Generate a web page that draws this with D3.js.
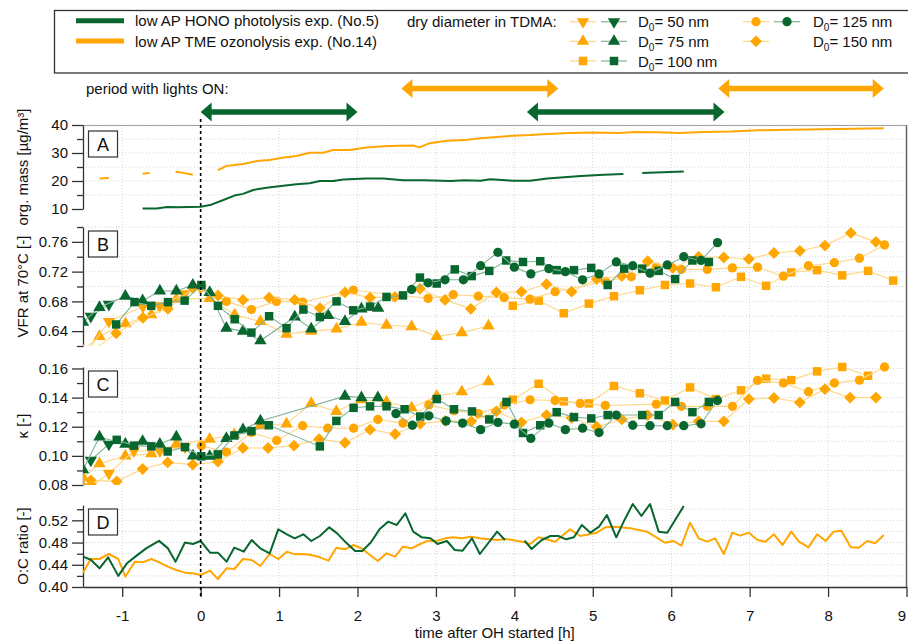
<!DOCTYPE html>
<html>
<head>
<meta charset="utf-8">
<script src="https://cdn.jsdelivr.net/npm/d3@7"></script>
<style>
body { margin: 0; background: #fff; }
svg { font-family: "Liberation Sans", Arial, sans-serif; }
</style>
</head>
<body>
<svg id="chart" width="908" height="641"></svg>
<script>
// ---- data: [hours after OH started, value] ----
// panel A, organic mass (null = gap in record)
const massGreen = [[-0.74,10.2],[-0.56,10.2],[-0.43,10.7],[-0.3,10.6],[-0.15,10.7],[0,10.8],[0.12,11.4],[0.29,13.2],[0.43,14.8],[0.54,15.4],[0.67,16.8],[0.84,17.6],[1.0,18.1],[1.22,18.8],[1.39,19.2],[1.52,20.0],[1.69,20.0],[1.82,20.5],[2.11,20.9],[2.33,20.9],[2.58,20.3],[2.84,20.3],[3.19,20.0],[3.36,20.3],[3.57,20.1],[3.69,20.6],[3.99,20.1],[4.2,20.1],[4.42,20.9],[4.85,21.8],[5.14,22.2],[5.39,22.5],[5.5,null],[5.63,22.9],[6.16,23.4]];
const massOrange = [[-1.29,20.9],[-1.17,21.1],[-1.0,null],[-0.74,22.6],[-0.65,22.9],[-0.5,null],[-0.32,23.3],[-0.22,22.9],[-0.1,22.2],[0.1,null],[0.22,23.9],[0.33,25.4],[0.43,25.7],[0.54,26.1],[0.71,27.1],[0.88,27.5],[1.04,28.3],[1.22,28.9],[1.39,30.1],[1.56,30.1],[1.69,31.1],[1.9,31.1],[2.11,32.0],[2.33,32.4],[2.54,32.6],[2.71,32.7],[2.79,32.0],[2.92,33.5],[3.14,34.4],[3.36,34.6],[3.57,35.3],[3.99,36.2],[4.2,36.4],[4.42,36.8],[4.71,37.1],[5.0,37.3],[5.34,37.1],[5.55,37.5],[5.8,37.4],[6.1,37.1],[6.4,37.5],[6.76,37.7],[7.1,38.1],[7.52,38.3],[8.12,38.6],[8.71,38.8]];

// panel B, volume fraction remaining at 70 °C
const vfrGreen050 = [[-1.40,0.660],[-1.17,0.676]];
const vfrGreen075 = [[-1.50,0.652],[-1.29,0.672],[-0.96,0.687],[-0.74,0.681],[-0.52,0.694],[-0.31,0.694],[-0.10,0.702],[0.115,0.692],[0.328,0.644],[0.54,0.640],[0.762,0.627],[1.2,0.659],[1.41,0.643],[1.627,0.661],[1.84,0.653],[2.05,0.670],[2.264,0.671]];
const vfrGreen100 = [[-1.077,0.649],[-0.843,0.679],[-0.63,0.674],[-0.417,0.679],[-0.204,0.681],[0.009,0.702],[0.221,0.674],[0.434,0.656],[0.647,0.638],[0.873,0.660],[1.095,0.644],[1.31,0.669],[1.52,0.659],[1.733,0.680],[1.946,0.668],[2.16,0.673],[2.37,0.686],[2.58,0.688],[2.796,0.712],[3.01,0.704],[3.24,0.723],[3.456,0.714],[3.68,0.721],[3.896,0.735],[4.11,0.733],[4.33,0.734],[4.54,0.722],[4.76,0.722],[4.98,0.725],[5.19,0.702],[5.40,0.724],[5.63,0.724],[5.84,0.721],[6.05,0.710],[6.27,0.735],[6.48,0.733]];
const vfrGreen125 = [[2.69,0.696],[2.9,0.705],[3.116,0.709],[3.35,0.709],[3.57,0.728],[3.79,0.746],[4.0,0.726],[4.21,0.717],[4.44,0.724],[4.65,0.720],[4.87,0.709],[5.08,0.717],[5.30,0.733],[5.51,0.728],[5.73,0.718],[5.95,0.729],[6.16,0.740],[6.38,0.735],[6.59,0.759]];
const vfrOrange050 = [[-1.45,0.612],[-1.17,0.653],[-0.736,0.673],[-0.524,0.674],[-0.204,0.690],[0.0,0.698]];
const vfrOrange075 = [[-1.50,0.614],[-1.29,0.633],[-0.958,0.650],[-0.63,0.662],[-0.31,0.683],[0.115,0.684],[0.434,0.662],[0.762,0.653],[1.095,0.636],[1.41,0.640],[1.733,0.643],[2.05,0.652],[2.37,0.648],[2.69,0.646],[3.01,0.633],[3.33,0.638],[3.67,0.647]];
const vfrOrange100 = [[3.98,0.674],[4.31,0.681],[4.63,0.664],[4.95,0.677],[5.27,0.687],[5.60,0.695],[5.92,0.702],[6.24,0.704],[6.57,0.699],[6.89,0.713],[7.21,0.701],[7.53,0.719],[7.86,0.722],[8.18,0.715],[8.51,0.721],[8.83,0.708]];
const vfrOrange125 = [[0.009,0.700],[0.328,0.680],[0.647,0.669],[0.966,0.680],[1.3,0.679],[1.946,0.695],[2.9,0.684],[3.22,0.689],[3.54,0.687],[3.87,0.685],[4.20,0.683],[4.52,0.693],[5.16,0.707],[5.49,0.713],[5.81,0.726],[6.13,0.723],[6.46,0.723],[6.78,0.725],[7.10,0.726],[7.43,0.714],[7.75,0.728],[8.08,0.732],[8.40,0.738],[8.72,0.756]];
const vfrOrange150 = [[-1.40,0.612],[-1.077,0.637],[-0.736,0.658],[-0.417,0.670],[-0.098,0.698],[0.221,0.688],[0.54,0.682],[0.873,0.685],[1.2,0.682],[1.52,0.671],[1.84,0.692],[2.16,0.685],[2.477,0.686],[2.796,0.697],[3.116,0.682],[3.445,0.670],[3.77,0.692],[4.09,0.693],[4.41,0.703],[4.73,0.693],[5.05,0.710],[5.37,0.714],[5.70,0.734],[6.02,0.725],[6.35,0.740],[6.67,0.739],[6.99,0.737],[7.31,0.745],[7.64,0.748],[7.96,0.755],[8.29,0.772],[8.61,0.760]];

// panel C, hygroscopicity kappa
const kapGreen050 = [[-1.40,0.097],[-1.17,0.108]];
const kapGreen075 = [[-1.50,0.0905],[-1.29,0.113],[-0.96,0.108],[-0.74,0.110],[-0.52,0.108],[-0.31,0.113],[-0.098,0.100],[0.115,0.0997],[0.328,0.112],[0.54,0.118],[0.762,0.124],[1.84,0.141],[2.05,0.140],[2.26,0.140]];
const kapGreen100 = [[-1.07,0.111],[-0.85,0.107],[-0.63,0.1065],[-0.42,0.103],[-0.20,0.106],[0.009,0.0997],[0.22,0.101],[0.43,0.114],[0.647,0.117],[0.87,0.121],[1.52,0.1065],[1.73,0.124],[1.95,0.133],[2.16,0.134],[2.37,0.134],[2.6,0.132],[2.80,0.127],[3.01,0.139],[3.23,0.132],[3.46,0.1305],[3.68,0.125],[3.90,0.137],[4.11,0.1157],[4.33,0.121],[4.54,0.130],[4.76,0.1266],[4.98,0.1257],[5.19,0.128],[5.63,0.128],[5.84,0.128],[6.05,0.137],[6.27,0.130],[6.48,0.137]];
const kapGreen125 = [[2.49,0.129],[2.70,0.121],[2.91,0.1275],[3.13,0.124],[3.34,0.1225],[3.57,0.118],[3.79,0.123],[4.0,0.1218],[4.21,0.112],[4.44,0.1225],[4.65,0.118],[4.87,0.119],[5.08,0.116],[5.30,0.128],[5.51,0.121],[5.73,0.1207],[5.95,0.1207],[6.16,0.1207],[6.38,0.122],[6.59,0.138]];
const kapOrange050 = [[-1.40,0.079],[-1.17,0.088],[-0.85,0.1035],[-0.52,0.1035],[-0.20,0.106]];
const kapOrange075 = [[-1.50,0.085],[-1.29,0.0946],[-0.96,0.100],[-0.63,0.1015],[-0.31,0.108],[0.115,0.1115],[0.43,0.1145],[0.76,0.1207],[1.095,0.122],[1.41,0.136],[1.73,0.1305],[2.05,0.1385],[2.37,0.137],[2.69,0.133],[3.01,0.141],[3.33,0.144],[3.67,0.151]];
const kapOrange100 = [[3.98,0.1385],[4.31,0.1495],[4.63,0.1374],[4.95,0.136],[5.27,0.148],[5.60,0.143],[5.92,0.138],[6.24,0.147],[6.57,0.139],[6.89,0.145],[7.21,0.153],[7.53,0.152],[7.86,0.158],[8.18,0.161],[8.51,0.155]];
const kapOrange125 = [[0.009,0.107],[0.33,0.1026],[0.647,0.116],[0.97,0.1106],[1.30,0.1207],[1.62,0.119],[1.95,0.119],[2.26,0.125],[2.58,0.1225],[2.91,0.135],[3.23,0.131],[3.54,0.129],[3.87,0.135],[4.20,0.1385],[4.52,0.138],[4.84,0.136],[5.16,0.1346],[5.81,0.1355],[6.13,0.134],[6.46,0.134],[6.78,0.134],[7.10,0.1518],[7.43,0.150],[7.75,0.144],[8.08,0.150],[8.40,0.152],[8.72,0.161]];
const kapOrange150 = [[-1.50,0.079],[-1.40,0.0832],[-1.07,0.0825],[-0.74,0.091],[-0.42,0.0955],[-0.10,0.094],[0.22,0.096],[0.54,0.1054],[0.86,0.1054],[1.19,0.107],[1.51,0.1115],[1.84,0.109],[2.16,0.118],[2.48,0.115],[2.80,0.122],[3.12,0.124],[3.45,0.1237],[3.77,0.1305],[4.09,0.123],[4.41,0.128],[4.73,0.126],[5.05,0.120],[5.37,0.125],[5.70,0.128],[6.02,0.1214],[6.35,0.1237],[6.67,0.1237],[6.99,0.139],[7.31,0.1397],[7.64,0.1367],[7.96,0.1458],[8.28,0.140],[8.61,0.140]];

// panel D, O:C ratio
const ocGreen = [[-1.50,0.4546],[-1.40,0.449],[-1.29,0.4336],[-1.18,0.4534],[-1.05,0.420],[-0.94,0.4426],[-0.82,0.456],[-0.69,0.470],[-0.53,0.483],[-0.42,0.470],[-0.32,0.4456],[-0.20,0.480],[-0.10,0.4774],[0.0,0.4828],[0.12,0.4618],[0.22,0.4618],[0.33,0.4456],[0.43,0.471],[0.55,0.4636],[0.65,0.4846],[0.76,0.4696],[0.88,0.4606],[0.99,0.5038],[1.1,0.4948],[1.2,0.4876],[1.31,0.4948],[1.41,0.4828],[1.52,0.4918],[1.64,0.5074],[1.74,0.4966],[1.85,0.4804],[1.97,0.4648],[2.06,0.4648],[2.17,0.480],[2.28,0.5038],[2.39,0.5176],[2.50,0.5116],[2.61,0.5326],[2.71,0.4996],[2.82,0.4894],[2.93,0.4876],[3.02,0.4774],[3.14,0.4828],[3.24,0.4666],[3.34,0.4654],[3.46,0.4876],[3.56,0.4594],[3.78,0.4996],[3.88,0.4846],[4.0,null],[4.13,0.4834],[4.22,0.4684],[4.35,0.4846],[4.46,0.4918],[4.56,0.4918],[4.66,0.4858],[4.76,0.4894],[4.86,0.5116],[4.97,0.4978],[5.08,0.5086],[5.18,0.5296],[5.30,0.4894],[5.40,0.5194],[5.51,0.5494],[5.62,0.5278],[5.73,0.5494],[5.84,0.4996],[5.95,0.4978],[6.16,0.5458]];
const ocOrange = [[-1.50,0.4258],[-1.40,0.4504],[-1.29,0.4504],[-1.17,0.4594],[-1.05,0.4504],[-0.96,0.4186],[-0.84,0.4456],[-0.74,0.4444],[-0.63,0.4504],[-0.52,0.4438],[-0.42,0.4366],[-0.31,0.4306],[-0.20,0.4258],[-0.10,0.4246],[0.0,0.4216],[0.12,0.4294],[0.22,0.4144],[0.33,0.4336],[0.43,0.4324],[0.54,0.4504],[0.65,0.4486],[0.76,0.4378],[0.88,0.4594],[0.99,0.4504],[1.1,0.4636],[1.2,0.4588],[1.31,0.4594],[1.41,0.4576],[1.52,0.4534],[1.63,0.4474],[1.73,0.4708],[1.84,0.4678],[1.95,0.4756],[2.05,0.4696],[2.16,0.4576],[2.26,0.4468],[2.37,0.4606],[2.48,0.4546],[2.58,0.4726],[2.69,0.4696],[2.80,0.4774],[2.90,0.4834],[3.01,0.4828],[3.12,0.4876],[3.22,0.4894],[3.33,0.4876],[3.44,0.4906],[3.56,0.4876],[3.78,0.4846],[3.90,0.4864],[4.13,0.4804],[4.2,0.4774],[4.31,0.4894],[4.52,0.4816],[4.71,0.5038],[4.84,0.4918],[5.05,0.4978],[5.16,0.5074],[5.29,0.5086],[5.48,0.5056],[5.69,0.4996],[5.92,0.4798],[6.03,0.4828],[6.13,0.4744],[6.24,0.5158],[6.35,0.4876],[6.46,0.4816],[6.56,0.4876],[6.67,0.4594],[6.78,0.4978],[6.88,0.4924],[6.99,0.4978],[7.10,0.4846],[7.20,0.4816],[7.31,0.4948],[7.42,0.4756],[7.53,0.4996],[7.63,0.4816],[7.75,0.4714],[7.86,0.4948],[7.97,0.4828],[8.07,0.4996],[8.17,0.5014],[8.29,0.4714],[8.39,0.4708],[8.5,0.4828],[8.6,0.4786],[8.71,0.4936]];

// lights-on periods [start, end] in hours
const lightsGreen = [[0, 2.0], [4.16, 6.68]];
const lightsOrange = [[2.56, 4.56], [6.60, 8.71]];

const hourTicks = [-1, 0, 1, 2, 3, 4, 5, 6, 7, 8, 9];
const legendExp = ["low AP HONO photolysis exp. (No.5)", "low AP TME ozonolysis exp. (No.14)"];
const legendSizes = [50, 75, 100, 125, 150];

const GREEN = "#08662f", ORANGE = "#ffa600";
const GREEN_LT = "#82b497", ORANGE_LT = "#ffd685";

const svg = d3.select("#chart");
const x = d3.scaleLinear().domain([-1.5, 9]).range([83, 906.5]);

const panels = [
  { id: "A", domain: [10, 40], range: [209, 125], major: [10, 20, 30, 40], minor: [15, 25, 35], fmt: d3.format("d"), title: "org. mass [µg/m³]", box: 131 },
  { id: "B", domain: [0.62, 0.78], range: [346, 227], major: [0.64, 0.68, 0.72, 0.76], minor: [0.62, 0.66, 0.70, 0.74, 0.78], fmt: d3.format(".2f"), title: "VFR at 70°C [-]", box: 231 },
  { id: "C", domain: [0.08, 0.161], range: [485, 367], major: [0.08, 0.10, 0.12, 0.14, 0.16], minor: [0.09, 0.11, 0.13, 0.15], fmt: d3.format(".2f"), title: "κ [-]", box: 371 },
  { id: "D", domain: [0.40, 0.5476], range: [587, 505], major: [0.40, 0.44, 0.48, 0.52], minor: [0.42, 0.46, 0.50, 0.54], fmt: d3.format(".2f"), title: "O:C ratio [-]", box: 509 }
];
panels.forEach(p => p.y = d3.scaleLinear().domain(p.domain).range(p.range));

function markerPath(shape) {
  if (shape === "circle") return d3.symbol(d3.symbolCircle, 68)();
  if (shape === "square") return d3.symbol(d3.symbolSquare, 72)();
  if (shape === "diamond") return d3.symbol(d3.symbolSquare, 70)();
  return d3.symbol(d3.symbolTriangle, 66)();
}
function markerRot(shape) {
  if (shape === "tdown") return " rotate(180)";
  if (shape === "diamond") return " rotate(45)";
  return "";
}

// vertical grid
svg.append("g").selectAll("line")
  .data(hourTicks.filter(h => h !== 0 && h < 9))
  .enter().append("line")
  .attr("x1", d => x(d)).attr("x2", d => x(d))
  .attr("y1", 125).attr("y2", 587)
  .attr("stroke", "#d4d4d4").attr("stroke-dasharray", "1,2");

// frame: top and right
svg.append("line").attr("x1", 83).attr("x2", 907).attr("y1", 125.5).attr("y2", 125.5)
  .attr("stroke", "#999").attr("stroke-width", 1.2);
svg.append("line").attr("x1", 906.5).attr("x2", 906.5).attr("y1", 125).attr("y2", 587)
  .attr("stroke", "#666").attr("stroke-width", 1.5);

panels.forEach(p => {
  // horizontal grid
  svg.append("g").selectAll("line")
    .data(p.major.concat(p.minor).filter(v => v > p.domain[0] && v <= p.domain[1]))
    .enter().append("line")
    .attr("x1", 83).attr("x2", 906)
    .attr("y1", d => p.y(d)).attr("y2", d => p.y(d))
    .attr("stroke", "#d4d4d4").attr("stroke-dasharray", "1,2");

  const ax = svg.append("g").attr("transform", "translate(83,0)")
    .call(d3.axisLeft(p.y).tickValues(p.major).tickSize(11).tickPadding(4).tickSizeOuter(0).tickFormat(p.fmt));
  ax.select(".domain").attr("stroke", "#333").attr("stroke-width", 1.3);
  ax.selectAll(".tick line").attr("stroke", "#333").attr("stroke-width", 1.3);
  ax.selectAll("text").attr("font-size", 15).attr("font-family", "Liberation Sans, Arial").attr("fill", "#111");
  const mn = svg.append("g").attr("transform", "translate(83,0)")
    .call(d3.axisLeft(p.y).tickValues(p.minor).tickSize(6).tickFormat(""));
  mn.select(".domain").remove();
  mn.selectAll(".tick line").attr("stroke", "#333").attr("stroke-width", 1.3);

  // y title
  const cy = (p.range[0] + p.range[1]) / 2;
  svg.append("text").attr("transform", `translate(28,${cy}) rotate(-90)`)
    .attr("text-anchor", "middle").attr("font-size", 15).attr("fill", "#111").text(p.title);

  // clip per panel
  svg.append("clipPath").attr("id", "clip" + p.id).append("rect")
    .attr("x", 83).attr("width", 824)
    .attr("y", p.range[1] - 6).attr("height", p.range[0] - p.range[1] + 6);
});

// bottom axis
const xa = svg.append("g").attr("transform", "translate(0,587)")
  .call(d3.axisBottom(x).tickValues(hourTicks).tickSize(10).tickPadding(13).tickSizeOuter(0).tickFormat(d => String(d)));
xa.select(".domain").attr("stroke", "#333").attr("stroke-width", 1.3);
xa.selectAll(".tick line").attr("stroke", "#333").attr("stroke-width", 1.3);
xa.selectAll("text").attr("font-size", 15).attr("font-family", "Liberation Sans, Arial").attr("fill", "#111");
// keep the last label inside the page
xa.selectAll(".tick text").filter(d => d === 9).attr("text-anchor", "end").attr("dx", -1);
svg.append("text").attr("x", x(3.75)).attr("y", 638).attr("text-anchor", "middle")
  .attr("font-size", 15).attr("fill", "#111").text("time after OH started [h]");

// panels A and D: plain lines
function drawLine(p, data, color) {
  const line = d3.line().defined(d => d[1] !== null).x(d => x(d[0])).y(d => p.y(d[1]));
  svg.append("path").datum(data)
    .attr("fill", "none").attr("stroke", color).attr("stroke-width", 2)
    .attr("stroke-linejoin", "round").attr("d", line);
}
drawLine(panels[0], massGreen, GREEN);
drawLine(panels[0], massOrange, ORANGE);
drawLine(panels[3], ocOrange, ORANGE);
drawLine(panels[3], ocGreen, GREEN);

// panels B and C: markers with thin lines
function drawSeries(p, data, color, light, shape) {
  const g = svg.append("g").attr("clip-path", `url(#clip${p.id})`);
  const line = d3.line().x(d => x(d[0])).y(d => p.y(d[1]));
  g.append("path").datum(data)
    .attr("fill", "none").attr("stroke", light).attr("stroke-width", 1.1).attr("d", line);
  g.selectAll("path.m").data(data).enter().append("path").attr("class", "m")
    .attr("d", markerPath(shape))
    .attr("transform", d => `translate(${x(d[0])},${p.y(d[1])})` + markerRot(shape))
    .attr("fill", color);
}
const B = panels[1], C = panels[2];
drawSeries(B, vfrOrange075, ORANGE, ORANGE_LT, "tup");
drawSeries(B, vfrOrange050, ORANGE, ORANGE_LT, "tdown");
drawSeries(B, vfrOrange100, ORANGE, ORANGE_LT, "square");
drawSeries(B, vfrOrange125, ORANGE, ORANGE_LT, "circle");
drawSeries(B, vfrOrange150, ORANGE, ORANGE_LT, "diamond");
drawSeries(B, vfrGreen050, GREEN, GREEN_LT, "tdown");
drawSeries(B, vfrGreen075, GREEN, GREEN_LT, "tup");
drawSeries(B, vfrGreen100, GREEN, GREEN_LT, "square");
drawSeries(B, vfrGreen125, GREEN, GREEN_LT, "circle");

drawSeries(C, kapOrange075, ORANGE, ORANGE_LT, "tup");
drawSeries(C, kapOrange050, ORANGE, ORANGE_LT, "tdown");
drawSeries(C, kapOrange100, ORANGE, ORANGE_LT, "square");
drawSeries(C, kapOrange125, ORANGE, ORANGE_LT, "circle");
drawSeries(C, kapOrange150, ORANGE, ORANGE_LT, "diamond");
drawSeries(C, kapGreen050, GREEN, GREEN_LT, "tdown");
drawSeries(C, kapGreen075, GREEN, GREEN_LT, "tup");
drawSeries(C, kapGreen100, GREEN, GREEN_LT, "square");
drawSeries(C, kapGreen125, GREEN, GREEN_LT, "circle");

// lights on at t = 0
svg.append("line").attr("x1", x(0)).attr("x2", x(0)).attr("y1", 119).attr("y2", 596)
  .attr("stroke", "#000").attr("stroke-width", 1.6).attr("stroke-dasharray", "3,3");

// panel letters
panels.forEach(p => {
  svg.append("rect").attr("x", 88.5).attr("y", p.box).attr("width", 29).attr("height", 26)
    .attr("fill", "#fff").attr("stroke", "#333").attr("stroke-width", 1.2);
  svg.append("text").attr("x", 103).attr("y", p.box + 19.5).attr("text-anchor", "middle")
    .attr("font-size", 18).attr("fill", "#111").text(p.id);
});

// lights-on arrows
function arrow(a, b, yc, color) {
  const x1 = x(a), x2 = x(b), L = 11, H = 9.5, t = 2.8;
  const pts = [[x1, yc], [x1 + L, yc - H], [x1 + L, yc - t], [x2 - L, yc - t], [x2 - L, yc - H],
    [x2, yc], [x2 - L, yc + H], [x2 - L, yc + t], [x1 + L, yc + t], [x1 + L, yc + H]];
  svg.append("path").attr("d", "M" + pts.join("L") + "Z").attr("fill", color);
}
lightsGreen.forEach(d => arrow(d[0], d[1], 112, GREEN));
lightsOrange.forEach(d => arrow(d[0], d[1], 88.5, ORANGE));
svg.append("text").attr("x", 86).attr("y", 94).attr("font-size", 15).attr("fill", "#111")
  .text("period with lights ON:");

// legend
const lg = svg.append("g");
lg.append("rect").attr("x", 54.5).attr("y", 10.5).attr("width", 900).attr("height", 62.5)
  .attr("fill", "#fff").attr("stroke", "#333").attr("stroke-width", 1.3);
[GREEN, ORANGE].forEach((c, i) => {
  const yy = 20.7 + i * 20.3;
  lg.append("line").attr("x1", 76).attr("x2", 124).attr("y1", yy).attr("y2", yy)
    .attr("stroke", c).attr("stroke-width", 5);
  lg.append("text").attr("x", 135).attr("y", yy + 5.5).attr("font-size", 15).attr("fill", "#111").text(legendExp[i]);
});
lg.append("text").attr("x", 407).attr("y", 26.5).attr("font-size", 15).attr("fill", "#111").text("dry diameter in TDMA:");

const legendItems = [
  { size: legendSizes[0], shape: "tdown", green: true, cx: 583, ty: 21.7, tx: 638 },
  { size: legendSizes[1], shape: "tup", green: true, cx: 583, ty: 41.3, tx: 638 },
  { size: legendSizes[2], shape: "square", green: true, cx: 583, ty: 61, tx: 638 },
  { size: legendSizes[3], shape: "circle", green: true, cx: 756, ty: 21.7, tx: 813 },
  { size: legendSizes[4], shape: "diamond", green: false, cx: 756, ty: 41.3, tx: 813 }
];
legendItems.forEach(it => {
  const pairs = [[it.cx, ORANGE, ORANGE_LT]];
  if (it.green) pairs.push([it.cx + 31, GREEN, GREEN_LT]);
  pairs.forEach(([cx, col, lt]) => {
    lg.append("line").attr("x1", cx - 13).attr("x2", cx + 13).attr("y1", it.ty).attr("y2", it.ty)
      .attr("stroke", lt).attr("stroke-width", 1.2);
    lg.append("path").attr("d", markerPath(it.shape))
      .attr("transform", `translate(${cx},${it.ty})` + markerRot(it.shape)).attr("fill", col);
  });
  const t = lg.append("text").attr("x", it.tx).attr("y", it.ty + 5.5).attr("font-size", 15).attr("fill", "#111");
  t.append("tspan").text("D");
  t.append("tspan").attr("font-size", 10).attr("dy", 4).text("0");
  t.append("tspan").attr("dy", -4).text("= " + it.size + " nm");
});
</script>
</body>
</html>
